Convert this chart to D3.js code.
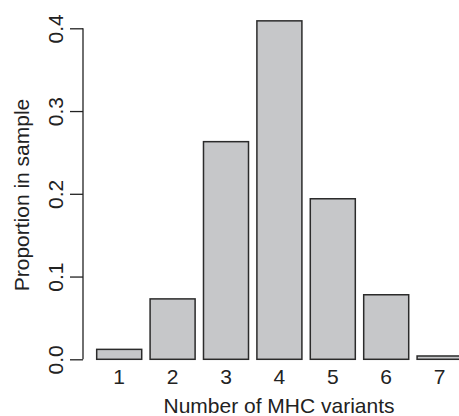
<!DOCTYPE html>
<html>
<head>
<meta charset="utf-8">
<script src="https://cdn.jsdelivr.net/npm/d3@7"></script>
<style>
  body { margin: 0; background: #fff; }
  svg { display: block; }
  text { font-family: 'Liberation Sans', Arial, Helvetica, sans-serif; fill: #222; }
</style>
</head>
<body>
<div id="chart"></div>
<script>
const variants = ['1', '2', '3', '4', '5', '6', '7']
const proportions = [0.012, 0.073, 0.263, 0.409, 0.194, 0.078, 0.004]
const yTicks = [0, 0.1, 0.2, 0.3, 0.4]

const width = 459
const height = 416

const svg = d3.select('#chart')
  .append('svg')
  .attr('width', width)
  .attr('height', height)

const x = d3.scaleBand()
  .domain(variants)
  .range([92.5, 466.3])
  .paddingInner(0.157)
  .paddingOuter(0.0785)

const y = d3.scaleLinear().domain([0, 0.4]).range([359.3, 28.3])

// Bars
svg.append('g')
  .selectAll('rect')
  .data(variants)
  .join('rect')
  .attr('x', d => x(d))
  .attr('width', x.bandwidth())
  .attr('y', (d, i) => y(proportions[i]))
  .attr('height', (d, i) => y(0) - y(proportions[i]))
  .attr('fill', '#c6c7c9')
  .attr('stroke', '#2b2b2b')
  .attr('stroke-width', 1.5)

// Y axis (R style: rotated tick labels)
const yAxis = svg.append('g')
  .attr('transform', 'translate(83,0)')
  .call(d3.axisLeft(y).tickValues(yTicks).tickFormat(d3.format('.1f')).tickSize(13).tickPadding(6))

yAxis.select('.domain')
  .attr('d', `M0,${y(0.4)}V${y(0)}`)
  .attr('stroke', '#222')
  .attr('stroke-width', 1.3)
yAxis.selectAll('.tick line').attr('stroke', '#222').attr('stroke-width', 1.3)
yAxis.selectAll('.tick text')
  .attr('font-size', '21px')
  .attr('text-anchor', 'middle')
  .attr('x', null)
  .attr('dy', null)
  .attr('transform', 'translate(-20,0) rotate(-90)')

// X tick labels, no axis line
svg.append('g')
  .selectAll('text')
  .data(variants)
  .join('text')
  .attr('x', d => x(d) + x.bandwidth() / 2)
  .attr('y', 384)
  .attr('text-anchor', 'middle')
  .attr('font-size', '21px')
  .text(d => d)

// Axis titles
svg.append('text')
  .attr('x', 279)
  .attr('y', 413)
  .attr('text-anchor', 'middle')
  .attr('font-size', '21px')
  .text('Number of MHC variants')

svg.append('text')
  .attr('transform', 'translate(28.5,195) rotate(-90)')
  .attr('text-anchor', 'middle')
  .attr('font-size', '21px')
  .text('Proportion in sample')
</script>
</body>
</html>
